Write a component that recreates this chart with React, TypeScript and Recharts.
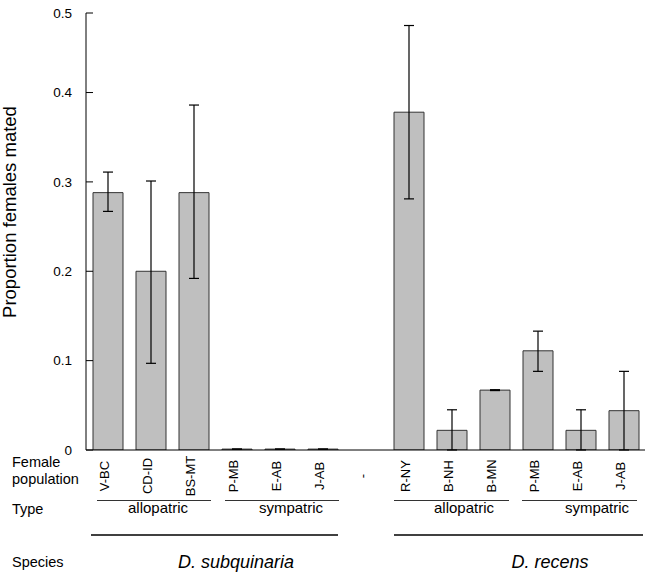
import React from 'react';
import { BarChart, Bar, XAxis, YAxis, ErrorBar } from 'recharts';

// Female populations (x categories); "-" is the empty spacer between species
const populations = ['V-BC', 'CD-ID', 'BS-MT', 'P-MB', 'E-AB', 'J-AB', '-', 'R-NY', 'B-NH', 'B-MN', 'P-MB', 'E-AB', 'J-AB'];
// Proportion of females mated
const proportionMated = [0.288, 0.2, 0.288, 0.001, 0.001, 0.001, 0, 0.378, 0.022, 0.067, 0.111, 0.022, 0.044];
// Error bar bounds
const ciLower = [0.267, 0.097, 0.192, 0.001, 0.001, 0.001, 0, 0.281, 0, 0.0665, 0.088, 0, 0];
const ciUpper = [0.311, 0.301, 0.386, 0.001, 0.001, 0.001, 0, 0.475, 0.045, 0.0675, 0.133, 0.045, 0.088];
// Y ticks (top tick of the axis sits at ~0.49 in the reference, labelled 0.5)
const yTicks = [0, 0.1, 0.2, 0.3, 0.4, 0.489];

// Group annotations
const typeGroups = [
  { label: 'allopatric', from: 97, to: 211, textX: 158 },
  { label: 'sympatric', from: 225, to: 339, textX: 291 },
  { label: 'allopatric', from: 394, to: 509, textX: 464 },
  { label: 'sympatric', from: 522, to: 637, textX: 597 },
];
const speciesGroups = [
  { label: 'D. subquinaria', from: 91, to: 338, textX: 236 },
  { label: 'D. recens', from: 394, to: 643, textX: 550 },
];

const data = populations.map((p, i) => ({
  id: i,
  label: p,
  value: proportionMated[i],
  err: [proportionMated[i] - ciLower[i], ciUpper[i] - proportionMated[i]],
}));

const FONT = '"Liberation Sans", Arial, Helvetica, sans-serif';
const Y_MARGIN = 14;

const fmtY = (v: number) => (v === 0 ? '0' : v.toFixed(1));

const YTick = (props: any) => {
  const { x, y, payload } = props;
  return (
    <g>
      <line x1={x + Y_MARGIN} x2={x + Y_MARGIN + 7} y1={y} y2={y} stroke="#000" strokeWidth={1} />
      <text x={x} y={y} dy="0.35em" textAnchor="end" fontSize={13.5} fontFamily={FONT} fill="#000">
        {fmtY(payload.value)}
      </text>
    </g>
  );
};

const XTick = (props: any) => {
  const { x, y, payload } = props;
  return (
    <text
      transform={`translate(${x + 1.5},${y + 26}) rotate(-90)`}
      textAnchor="middle"
      fontSize={13}
      fontFamily={FONT}
      fill="#000"
    >
      {populations[payload.value]}
    </text>
  );
};

export default function App() {
  return (
    <div style={{ position: 'absolute', left: 0, top: 0, width: 646, height: 573, background: '#fff' }}>
      <BarChart
        width={646}
        height={573}
        data={data}
        margin={{ top: 13, right: 1, left: 0, bottom: 83 }}
      >
        <XAxis
          dataKey="id"
          type="category"
          interval={0}
          tick={<XTick />}
          tickLine={false}
          tickSize={0}
          tickMargin={0}
          height={40}
          axisLine={{ stroke: '#000', strokeWidth: 1 }}
        />
        <YAxis
          domain={[0, 0.489]}
          ticks={yTicks}
          allowDataOverflow
          width={86}
          tick={<YTick />}
          tickLine={false}
          tickSize={0}
          tickMargin={Y_MARGIN}
          axisLine={{ stroke: '#000', strokeWidth: 1 }}
        />
        <Bar dataKey="value" fill="#bfbfbf" stroke="#333" strokeWidth={1} barSize={30} isAnimationActive={false}>
          <ErrorBar dataKey="err" width={5} stroke="#000" strokeWidth={1.2} direction="y" isAnimationActive={false} />
        </Bar>
      </BarChart>
      <svg
        width={646}
        height={573}
        style={{ position: 'absolute', left: 0, top: 0, pointerEvents: 'none' }}
        fontFamily={FONT}
      >
        <text transform="translate(16,212) rotate(-90)" textAnchor="middle" fontSize={18.5} fill="#000">
          Proportion females mated
        </text>
        <text x={12} y={467} fontSize={14.5} fill="#000">Female</text>
        <text x={12} y={484} fontSize={14.5} fill="#000">population</text>
        <text x={12} y={514} fontSize={14.5} fill="#000">Type</text>
        <text x={12} y={567} fontSize={14.5} fill="#000">Species</text>
        {typeGroups.map((g, i) => (
          <g key={'t' + i}>
            <line x1={g.from} x2={g.to} y1={500.5} y2={500.5} stroke="#333" strokeWidth={1} />
            <text x={g.textX} y={513} textAnchor="middle" fontSize={15} fill="#000">{g.label}</text>
          </g>
        ))}
        {speciesGroups.map((g, i) => (
          <g key={'s' + i}>
            <line x1={g.from} x2={g.to} y1={535} y2={535} stroke="#000" strokeWidth={1.5} />
            <text x={g.textX} y={568} textAnchor="middle" fontSize={18} fontStyle="italic" fill="#000">{g.label}</text>
          </g>
        ))}
      </svg>
    </div>
  );
}
